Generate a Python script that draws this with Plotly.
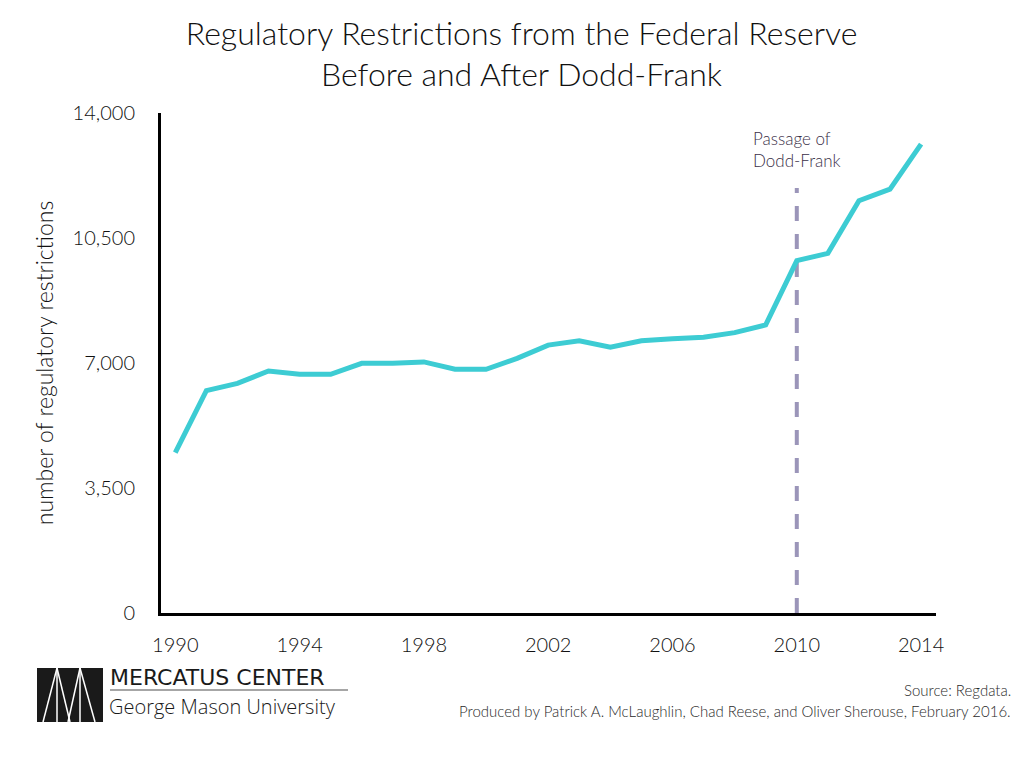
import plotly.graph_objects as go

# Data
years = list(range(1990, 2015))
restrictions = [
    4490, 6225, 6430, 6775, 6685, 6685, 6990, 6990, 7030, 6825,
    6825, 7130, 7500, 7625, 7440, 7625, 7680, 7720, 7850, 8065,
    9865, 10070, 11545, 11870, 13130,
]
y_ticks = [0, 3500, 7000, 10500, 14000]
x_ticks = [1990, 1994, 1998, 2002, 2006, 2010, 2014]
passage_year = 2010
passage_top = 11900
passage_label_y = 12990

# screen geometry (page body has an 8px margin)
OFF = 8
SW, SH = 1029, 760
L, R, T, B = 161, 936, 113, 613
FONT = "Lato"


def px(x, y):
    # screen pixel position -> paper coordinates
    return (x - L) / (R - L), (B - y) / (B - T)


fig = go.Figure()

fig.add_trace(
    go.Scatter(
        x=[passage_year, passage_year],
        y=[0, passage_top],
        mode="lines",
        line=dict(color="#9b95b9", width=4, dash="15px,13px"),
        hoverinfo="skip",
    )
)

fig.add_trace(
    go.Scatter(
        x=years,
        y=restrictions,
        mode="lines",
        line=dict(color="#3dccd3", width=5),
        name="Restrictions",
    )
)

fig.add_annotation(
    x=passage_year,
    y=passage_label_y,
    xref="x",
    yref="y",
    text="Passage of<br>Dodd-Frank",
    showarrow=False,
    xanchor="center",
    yanchor="middle",
    align="left",
    font=dict(family=FONT, size=17, color="#3b3048", weight=300),
)

# Footer texts
fx, fy = px(1013, 690)
fig.add_annotation(
    x=fx, y=fy, xref="paper", yref="paper", text="Source: Regdata.",
    showarrow=False, xanchor="right", yanchor="middle",
    font=dict(family=FONT, size=15, color="#2a2a2a", weight=300),
)
fx, fy = px(1013, 711)
fig.add_annotation(
    x=fx, y=fy, xref="paper", yref="paper",
    text="Produced by Patrick A. McLaughlin, Chad Reese, and Oliver Sherouse, February 2016.",
    showarrow=False, xanchor="right", yanchor="middle",
    font=dict(family=FONT, size=15, color="#2a2a2a", weight=300),
)

# Logo
x0, y0 = px(37, 722)
x1, y1 = px(103, 668)
fig.add_shape(type="rect", xref="paper", yref="paper", x0=x0, y0=y0, x1=x1, y1=y1,
              fillcolor="#1a1a1a", line=dict(width=0))
logo_lines = [
    ((43, 722), (57, 668)), ((57, 668), (57, 722)), ((57, 668), (70, 722)),
    ((68, 722), (80, 668)), ((80, 668), (80, 722)), ((80, 668), (95, 722)),
]
for (ax, ay), (bx, by) in logo_lines:
    a0, a1 = px(ax, ay)
    b0, b1 = px(bx, by)
    fig.add_shape(type="line", xref="paper", yref="paper", x0=a0, y0=a1, x1=b0, y1=b1,
                  line=dict(color="white", width=1.5))
r0, r1 = px(110, 690)
r2, _ = px(348, 690)
fig.add_shape(type="line", xref="paper", yref="paper", x0=r0, y0=r1, x1=r2, y1=r1,
              line=dict(color="#888888", width=1.5))
tx, ty = px(108, 677)
fig.add_annotation(
    x=tx, y=ty, xref="paper", yref="paper", text="MERCATUS CENTER",
    showarrow=False, xanchor="left", yanchor="middle",
    font=dict(family="DejaVu Sans", size=22, color="#1a1a1a"),
)
tx, ty = px(107, 706)
fig.add_annotation(
    x=tx, y=ty, xref="paper", yref="paper", text="George Mason University",
    showarrow=False, xanchor="left", yanchor="middle",
    font=dict(family="Open Sans", size=20, color="#1a1a1a", weight=300),
)

fig.update_xaxes(
    range=[1989.54, 2014.48],
    tickvals=x_ticks,
    showgrid=False,
    zeroline=False,
    showline=True,
    linecolor="black",
    linewidth=3,
    ticks="",
    ticklabelstandoff=12,
    tickfont=dict(family=FONT, size=20, color="#111111", weight=300),
)
fig.update_yaxes(
    range=[0, 14000],
    tickvals=y_ticks,
    tickformat=",",
    showgrid=False,
    zeroline=False,
    showline=True,
    linecolor="black",
    linewidth=3,
    ticks="",
    ticklabelstandoff=19,
    tickfont=dict(family=FONT, size=20, color="#111111", weight=300),
    title=dict(
        text="number of regulatory restrictions",
        font=dict(family=FONT, size=23, color="#111111", weight=300),
        standoff=13,
    ),
)
fig.update_layout(
    width=SW - OFF,
    height=SH - OFF,
    margin=dict(l=L - OFF, r=SW - R, t=T - OFF, b=SH - B),
    plot_bgcolor="white",
    paper_bgcolor="white",
    showlegend=False,
    title=dict(
        text="Regulatory Restrictions from the Federal Reserve<br>Before and After Dodd-Frank",
        x=0.503,
        xanchor="center",
        y=0.951,
        yanchor="middle",
        font=dict(family=FONT, size=32, color="#111111", weight=300),
    ),
)

fig.write_html("out.html")
